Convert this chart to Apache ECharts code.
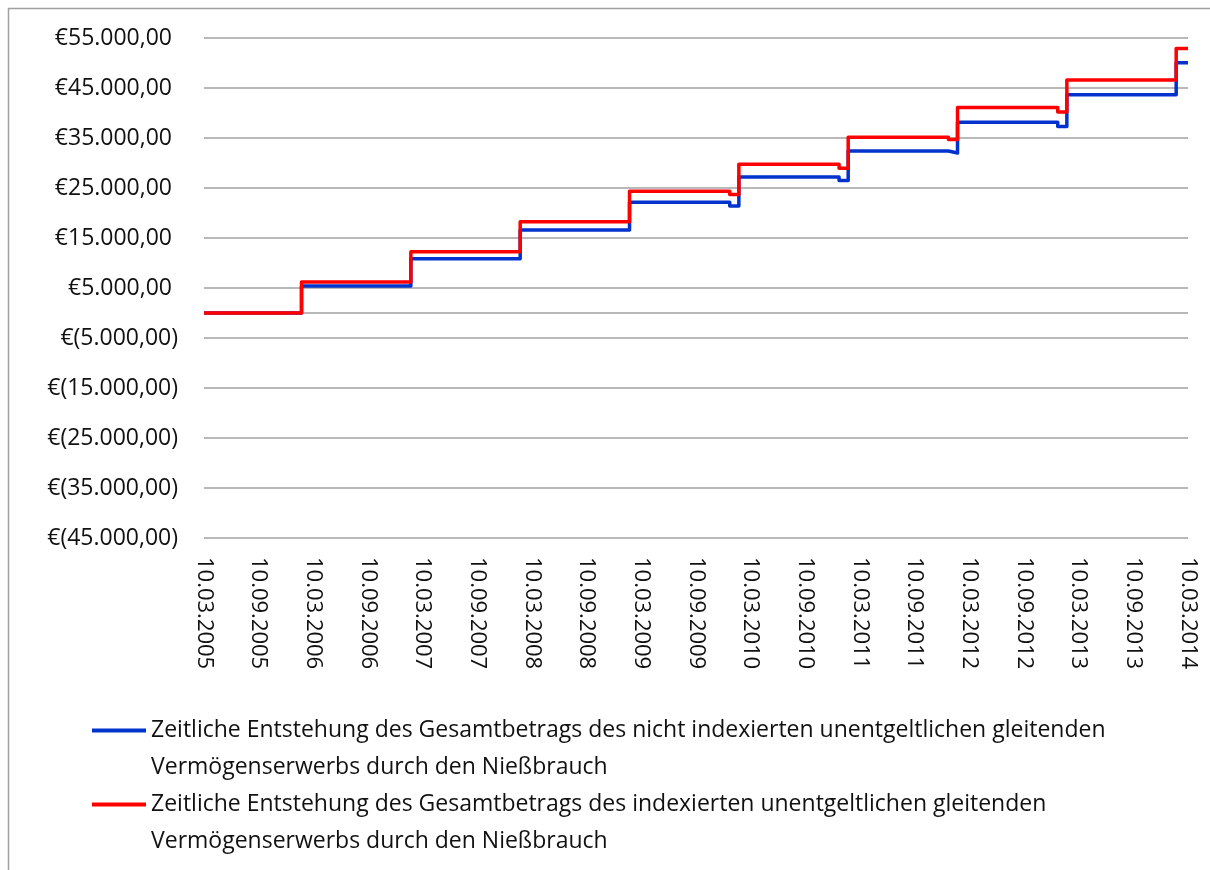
<!DOCTYPE html>
<html>
<head>
<meta charset="utf-8">
<title>Nießbrauch</title>
<script src="https://cdn.jsdelivr.net/npm/echarts@6/dist/echarts.min.js"></script>
<style>
  html, body { margin: 0; padding: 0; background: #fff; }
  #chart { width: 1210px; height: 870px; }
</style>
</head>
<body>
<div id="chart"></div>
<script>
// Stufenzeitpunkte (ab hier gilt der Wert bis zum nächsten Zeitpunkt)
var stepDates = ['2005-03-10', '2006-02-01', '2007-02-01', '2008-02-01', '2009-02-01',
  '2010-01-01', '2010-02-01', '2011-01-01', '2011-02-01', '2012-01-01', '2012-02-01',
  '2013-01-01', '2013-02-01', '2014-02-01', '2014-03-10'];
// nicht indexiert (blau)
var valuesPlain = [0, 5400, 10850, 16600, 22150, 21400, 27200, 26500, 32400, 32000,
  38150, 37300, 43650, 50050, 50050];
// indexiert (rot)
var valuesIndexed = [0, 6200, 12250, 18270, 24350, 23700, 29750, 28950, 35150, 34700,
  41100, 40200, 46600, 52900, 52900];

var nameBlue = 'Zeitliche Entstehung des Gesamtbetrags des nicht indexierten unentgeltlichen gleitenden Vermögenserwerbs durch den Nießbrauch';
var nameRed = 'Zeitliche Entstehung des Gesamtbetrags des indexierten unentgeltlichen gleitenden Vermögenserwerbs durch den Nießbrauch';

// Achse: -45.000 bis 55.000, alle 10.000 ; x in Monaten ab 10.03.2005, Beschriftung alle 6 Monate
var yMin = -45000, yMax = 55000, yStep = 10000;
var xMonths = 108, xStep = 6;

// Datum -> Monate seit 10.03.2005
function toMonths(s) {
  var p = s.split('-');
  var y = +p[0], m = +p[1], d = +p[2];
  return (y - 2005) * 12 + (m - 3) + (d - 10) / 30.4;
}
function pad(n) { return n < 10 ? '0' + n : '' + n; }
function monthLabel(v) {
  var k = Math.round(v) + 2;
  var year = 2005 + Math.floor(k / 12);
  var month = k % 12 + 1;
  return '10.' + pad(month) + '.' + year;
}
function euro(v) {
  var a = Math.abs(v);
  var s = a.toFixed(0).replace(/\B(?=(\d{3})+(?!\d))/g, '.') + ',00';
  return v < 0 ? '€(' + s + ')' : '€' + s + ' ';
}
function pairs(vals) {
  return stepDates.map(function (d, i) { return [toMonths(d), vals[i]]; });
}
// leere erste Zeile, damit das Symbol auf Höhe der ersten Textzeile sitzt
function legendText(name) {
  var cut = name.indexOf('gleitenden ') + 'gleitenden'.length;
  return '\n' + name.slice(0, cut) + '\n' + name.slice(cut + 1);
}

var font = 'Open Sans';
var myChart = echarts.init(document.getElementById('chart'));
myChart.setOption({
  animation: false,
  textStyle: { fontFamily: font },
  graphic: [{
    type: 'rect',
    shape: { x: 8.5, y: 8.5, width: 1400, height: 1000 },
    style: { fill: 'none', stroke: '#a0a0a0', lineWidth: 1.5 },
    silent: true
  }],
  grid: { left: 204, right: 22, top: 38, bottom: 332 },
  legend: [
    {
      data: [nameBlue], left: 92, top: 675, padding: 0,
      icon: 'rect', itemWidth: 54, itemHeight: 4,
      formatter: legendText,
      textStyle: { fontFamily: font, fontSize: 23, lineHeight: 37, color: '#111' }
    },
    {
      data: [nameRed], left: 92, top: 749, padding: 0,
      icon: 'rect', itemWidth: 54, itemHeight: 4,
      formatter: legendText,
      textStyle: { fontFamily: font, fontSize: 23, lineHeight: 37, color: '#111' }
    }
  ],
  xAxis: {
    type: 'value',
    min: 0, max: xMonths, interval: xStep,
    axisLine: { show: false, onZero: false },
    axisTick: { show: false },
    splitLine: { show: false },
    axisLabel: {
      rotate: -90, margin: 19, fontSize: 22, color: '#111', fontFamily: font,
      showMinLabel: true, showMaxLabel: true,
      formatter: monthLabel
    }
  },
  yAxis: {
    type: 'value',
    min: yMin, max: yMax, interval: yStep,
    axisLine: { show: false },
    axisTick: { show: false },
    splitLine: { lineStyle: { color: '#a0a0a0', width: 1.5 } },
    axisLabel: { fontSize: 23, color: '#111', margin: 26, fontFamily: font, formatter: euro }
  },
  series: [
    {
      name: nameBlue, type: 'line', step: 'end', symbol: 'none',
      data: pairs(valuesPlain),
      lineStyle: { color: '#0033cc', width: 3.5, join: 'round' },
      itemStyle: { color: '#0033cc' },
      markLine: {
        silent: true, symbol: 'none', z: 1,
        label: { show: false },
        lineStyle: { color: '#a0a0a0', width: 1.5, type: 'solid' },
        data: [{ yAxis: 0 }]
      }
    },
    {
      name: nameRed, type: 'line', step: 'end', symbol: 'none',
      data: pairs(valuesIndexed),
      lineStyle: { color: '#ff0000', width: 3.5, join: 'round' },
      itemStyle: { color: '#ff0000' }
    }
  ]
});
</script>
</body>
</html>
